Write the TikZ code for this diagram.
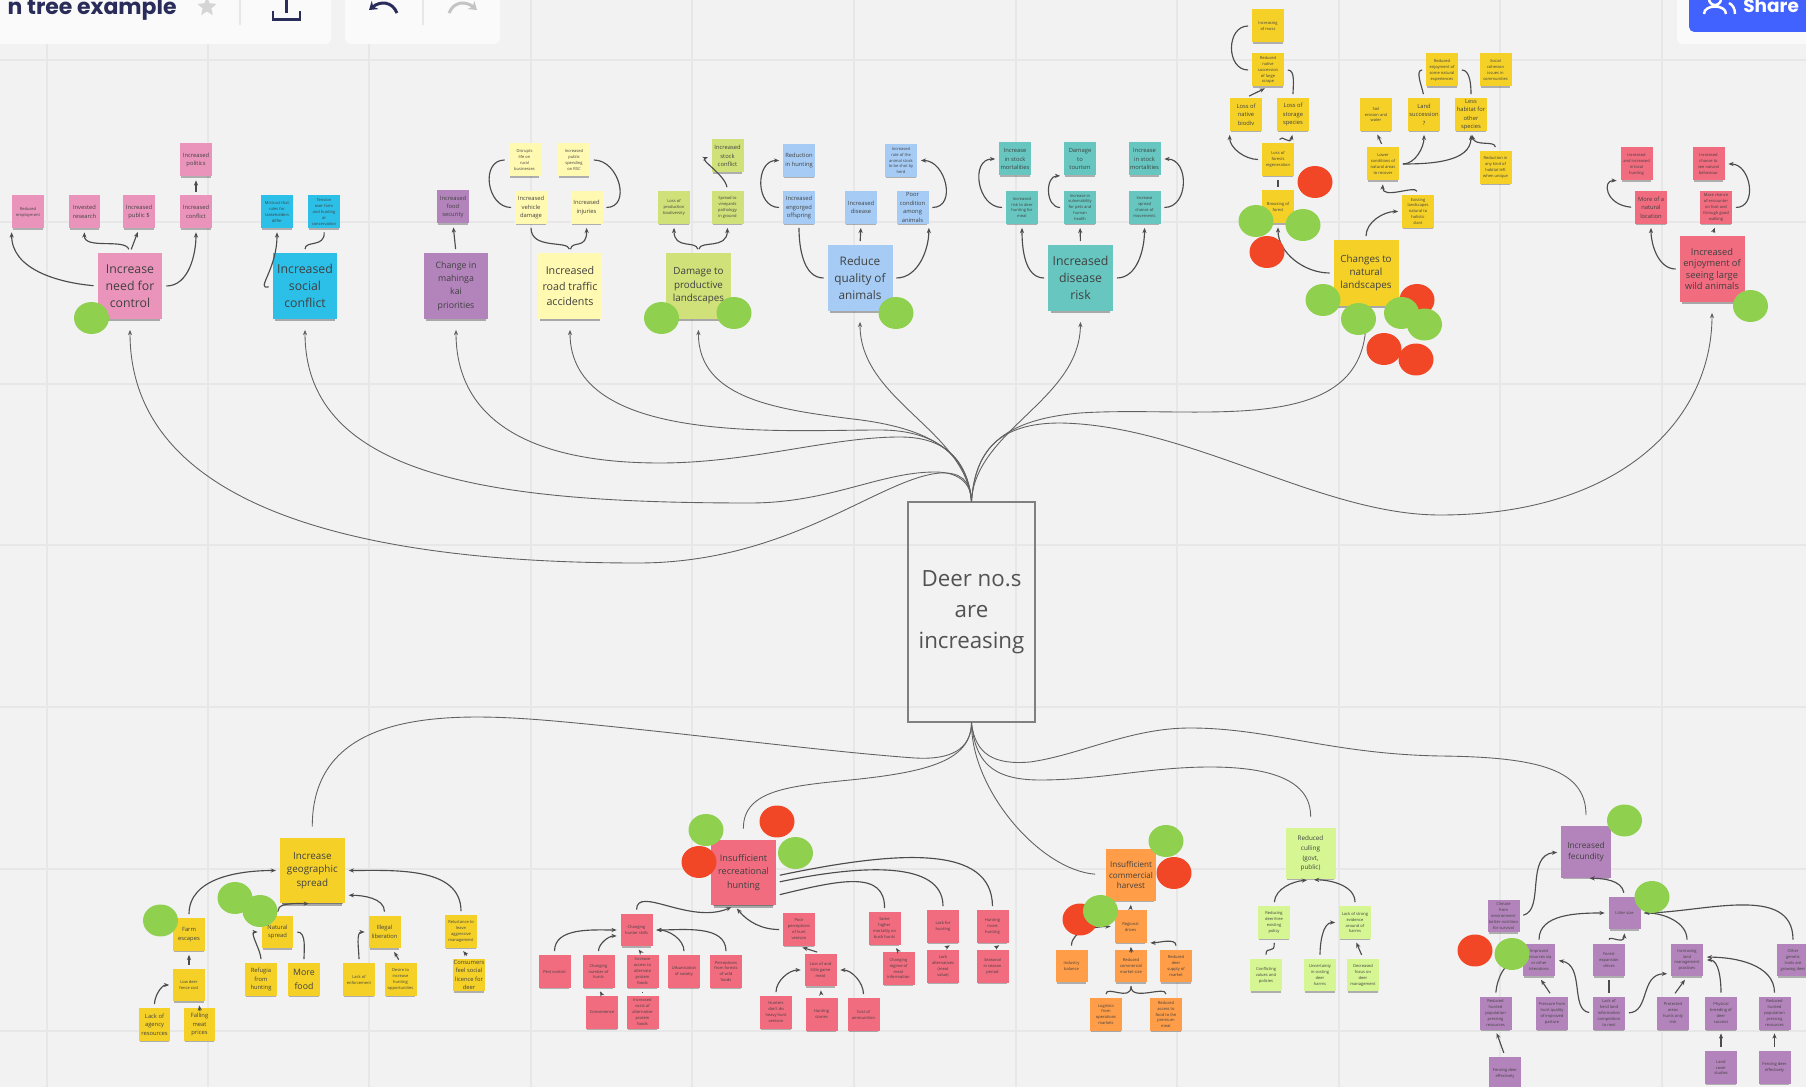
\documentclass[tikz,border=0pt]{standalone}
\usepackage{fontspec}
\setmainfont{Open Sans}
\newfontfamily\headfont{Poppins}
\usetikzlibrary{arrows.meta,shapes.geometric,shadows}
\definecolor{boardgrey}{HTML}{F2F2F2}
\definecolor{gridgrey}{HTML}{E7E7E7}
\definecolor{panelwhite}{HTML}{FAFAFA}
\definecolor{sharblue}{HTML}{4262FF}
\definecolor{headink}{HTML}{2A2C5A}
\definecolor{dotgreen}{HTML}{8FD14F}
\definecolor{dotred}{HTML}{F24726}
\definecolor{pinknote}{HTML}{EA94BB}
\definecolor{cyannote}{HTML}{2CC0E8}
\definecolor{violetnote}{HTML}{B384BB}
\definecolor{creamnote}{HTML}{FFF9B1}
\definecolor{olivenote}{HTML}{D0E17A}
\definecolor{bluenote}{HTML}{A6CCF5}
\definecolor{tealnote}{HTML}{67C6C0}
\definecolor{yellownote}{HTML}{F5D128}
\definecolor{rednote}{HTML}{F16C7F}
\definecolor{orangenote}{HTML}{FF9D48}
\definecolor{limenote}{HTML}{D5F692}
\newcommand{\smalltext}{\fontsize{3.3}{4.8}\selectfont}
\newcommand{\tinytext}{\fontsize{2.3}{3.4}\selectfont}
\newcommand{\midtext}{\fontsize{5.6}{7.6}\selectfont}
\newcommand{\bigtext}{\fontsize{7}{9.6}\selectfont}

\begin{document}
\begin{tikzpicture}
  [x=.02cm,y=-.02cm]
      \tikzstyle{small_note} = [rectangle, minimum width=.64cm, minimum height=.66cm, inner sep=0pt, align=center, text=black!75, font=\smalltext,
        drop shadow={shadow xshift=0pt, shadow yshift=-.05cm, shadow scale=.93, fill=black, opacity=.28}]
      \tikzstyle{mid_note} = [small_note, minimum width=1cm, minimum height=1.04cm, font=\midtext]
      \tikzstyle{big_note} = [small_note, minimum width=1.3cm, minimum height=1.32cm, font=\bigtext,
        drop shadow={shadow xshift=0pt, shadow yshift=-.11cm, shadow scale=.92, fill=black, opacity=.3}]
      \tikzstyle{dot} = [ellipse, minimum width=.7cm, minimum height=.64cm, inner sep=0pt]
      \tikzstyle{plain_edge} = [draw=black!70, line width=.65pt, shorten <=2pt, shorten >=2pt]
      \tikzstyle{edge_style} = [plain_edge, -{Stealth[length=3pt,width=2.4pt]}]
      \tikzstyle{main_edge} = [edge_style, draw=black!62, line width=.5pt, shorten <=0pt, shorten >=6pt]
      \tikzstyle{grid_line} = [draw=gridgrey, line width=.6pt]
  \path[use as bounding box] (0,0) rectangle (1806,1087);
  \clip (0,0) rectangle (1806,1087);
  % board
  \fill[boardgrey] (0,0) rectangle (1806,1087);
  \draw[grid_line] (47,0) -- (47,1087) (208,0) -- (208,1087) (369,0) -- (369,1087) (531,0) -- (531,1087)
    (692,0) -- (692,1087) (854,0) -- (854,1087) (1016,0) -- (1016,1087) (1177,0) -- (1177,1087)
    (1339,0) -- (1339,1087) (1500,0) -- (1500,1087) (1662,0) -- (1662,1087);
  \draw[grid_line] (0,60) -- (1806,60) (0,222) -- (1806,222) (0,384) -- (1806,384) (0,545) -- (1806,545)
    (0,707) -- (1806,707) (0,869) -- (1806,869) (0,1031) -- (1806,1031);
  % toolbar
  \fill[panelwhite, rounded corners=3pt] (-20,-20) rectangle (331,44);
  \fill[panelwhite, rounded corners=3pt] (345,-20) rectangle (500,44);
  \fill[panelwhite, rounded corners=3pt] (1677,-20) rectangle (1830,44);
  \fill[sharblue, rounded corners=3pt] (1689,-20) rectangle (1830,32);
  \node[anchor=base east, font=\headfont\bfseries\fontsize{12.5}{15}\selectfont, text=headink, inner sep=0pt] (board_title) at (177,15) {n tree example};
  \node[star, star points=5, star point ratio=2.2, fill=gridgrey!92!black, minimum size=.4cm, inner sep=0pt] (star_icon) at (207,7) {};
  \draw[gridgrey, line width=.7pt] (240,0) -- (240,25) (423,0) -- (423,25);
  \draw[headink, line width=1.4pt] (273,11) -- (273,19.5) -- (300,19.5) -- (300,11) (286.5,0) -- (286.5,13);
  \draw[headink, line width=1.7pt, -{Stealth[length=4.5pt,width=6pt]}] (397,13) .. controls (392,1) and (380,1) .. (369,10);
  \draw[gridgrey!85!black, line width=1.7pt, -{Stealth[length=4.5pt,width=6pt]}] (449,13) .. controls (454,1) and (466,1) .. (477,10);
  \draw[white, line width=1.4pt] (1704,14) .. controls (1704,4) and (1726,4) .. (1726,14) (1715,-1) circle (6) (1729,3) .. controls (1733,5) and (1735,9) .. (1735,14);
  \node[anchor=base west, font=\headfont\bfseries\fontsize{10.5}{12}\selectfont, text=white, inner sep=0pt] (share_text) at (1743,13) {Share};
  % centre
  \node[draw=black!50, line width=.8pt, minimum width=2.54cm, minimum height=4.4cm, inner sep=0pt, align=center, text=black!68, font=\fontsize{12.7}{17.6}\selectfont] (deer) at (971.5,612) {Deer no.s\\are\\increasing};
  % upper notes
  \node[big_note, fill=pinknote] (need) at (130,286) {Increase\\need for\\control};
  \node[small_note, fill=pinknote, font=\tinytext] (need1) at (28,212) {Reduced\\employment};
  \node[small_note, fill=pinknote] (need2) at (84.5,212) {Invested\\research};
  \node[small_note, fill=pinknote] (need3) at (139,212) {Increased\\public \$};
  \node[small_note, fill=pinknote] (need4) at (196,212) {Increased\\conflict};
  \node[small_note, fill=pinknote] (need5) at (196,160) {Increased\\politics};
  \node[big_note, fill=cyannote] (social) at (305,286) {Increased\\social\\conflict};
  \node[small_note, fill=cyannote, font=\tinytext] (social1) at (277,212) {Mistrust that\\rules for\\stakeholders\\differ};
  \node[small_note, fill=cyannote, font=\tinytext] (social2) at (324,212) {Tension\\over farm\\and hunting\\at\\conservation};
  \node[big_note, fill=violetnote, font=\fontsize{5}{7.6}\selectfont] (mahinga) at (456,286) {Change in\\mahinga\\kai\\priorities};
  \node[small_note, fill=violetnote] (mahinga1) at (453,207) {Increased\\food\\security};
  \node[big_note, fill=creamnote, font=\fontsize{6.1}{8.8}\selectfont] (road) at (570,286) {Increased\\road traffic\\accidents};
  \node[small_note, fill=creamnote, font=\tinytext] (road1) at (524.5,160) {Disrupts\\life on\\rural\\businesses};
  \node[small_note, fill=creamnote, font=\tinytext] (road2) at (574,160) {Increased\\public\\spending\\on RSC};
  \node[small_note, fill=creamnote] (road3) at (531,207.5) {Increased\\vehicle\\damage};
  \node[small_note, fill=creamnote] (road4) at (586.5,207.5) {Increased\\injuries};
  \node[big_note, fill=olivenote, font=\midtext] (damage) at (698.5,286) {Damage to\\productive\\landscapes};
  \node[small_note, fill=olivenote, font=\tinytext] (damage1) at (674,207.5) {Loss of\\production\\biodiversity};
  \node[small_note, fill=olivenote, font=\tinytext] (damage2) at (727.5,207.5) {Spread to\\vineyards\\pathology\\in ground};
  \node[small_note, fill=olivenote] (damage3) at (727.5,156) {Increased\\stock\\conflict};
  \node[big_note, fill=bluenote, font=\fontsize{6.7}{9.6}\selectfont] (quality) at (860,278) {Reduce\\quality of\\animals};
  \node[small_note, fill=bluenote] (quality1) at (799,160.5) {Reduction\\in hunting};
  \node[small_note, fill=bluenote, font=\tinytext] (quality2) at (901,160.5) {Increased\\rate of the\\animal stock\\to be shot by\\herd};
  \node[small_note, fill=bluenote] (quality3) at (799,207.5) {Increased\\engorged\\offspring};
  \node[small_note, fill=bluenote] (quality4) at (861,207.5) {Increased\\disease};
  \node[small_note, fill=bluenote] (quality5) at (912.5,207.5) {Poor\\condition\\among\\animals};
  \node[big_note, fill=tealnote] (disease) at (1080.5,278) {Increased\\disease\\risk};
  \node[small_note, fill=tealnote] (disease1) at (1015,159) {Increase\\in stock\\mortalities};
  \node[small_note, fill=tealnote] (disease2) at (1080,159) {Damage\\to\\tourism};
  \node[small_note, fill=tealnote] (disease3) at (1144.5,159) {Increase\\in stock\\mortalities};
  \node[small_note, fill=tealnote, font=\tinytext] (disease4) at (1022,207.5) {Increased\\risk to deer\\hunting for\\meat};
  \node[small_note, fill=tealnote, font=\tinytext] (disease5) at (1080,207.5) {Increase in\\vulnerability\\for pets and\\human\\health};
  \node[small_note, fill=tealnote, font=\tinytext] (disease6) at (1144.5,207.5) {Increase\\spread\\chance of\\movements};
  \node[big_note, fill=yellownote, font=\midtext] (changes) at (1366,273) {Changes to\\natural\\landscapes};
  \node[small_note, fill=yellownote, font=\tinytext] (lands1) at (1268,26) {Increasing\\of moss};
  \node[small_note, fill=yellownote, font=\tinytext] (lands2) at (1268,70) {Reduced\\native\\succession\\of large\\scrape};
  \node[small_note, fill=yellownote] (lands3) at (1246,114.5) {Loss of\\native\\biodiv};
  \node[small_note, fill=yellownote] (lands4) at (1293,114.5) {Loss of\\storage\\species};
  \node[small_note, fill=yellownote, font=\tinytext] (lands5) at (1278,159.5) {Loss of\\forests\\regeneration};
  \node[small_note, fill=yellownote, font=\tinytext] (lands6) at (1278,207) {Browsing of\\forest};
  \node[small_note, fill=yellownote, font=\tinytext] (lands7) at (1376,114.5) {Soil\\erosion and\\water};
  \node[small_note, fill=yellownote] (lands8) at (1424,114.5) {Land\\succession\\?};
  \node[small_note, fill=yellownote] (lands9) at (1471,114.5) {Less\\habitat for\\other\\species};
  \node[small_note, fill=yellownote, font=\tinytext] (lands10) at (1442,70) {Reduced\\enjoyment of\\some natural\\experiences};
  \node[small_note, fill=yellownote, font=\tinytext] (lands11) at (1495.5,70) {Social\\cohesion\\issues in\\communities};
  \node[small_note, fill=yellownote, font=\tinytext] (lands12) at (1383,164) {Lower\\conditions of\\natural areas\\to recover};
  \node[small_note, fill=yellownote, font=\tinytext] (lands13) at (1495.5,167.5) {Reduction in\\any kind of\\habitat left\\when unique};
  \node[small_note, fill=yellownote, font=\tinytext] (lands14) at (1418,211.5) {Existing\\landscapes\\natural to\\holistic\\slant};
  \node[big_note, fill=rednote, font=\fontsize{5.3}{6.4}\selectfont] (enjoy) at (1712,269) {Increased\\enjoyment of\\seeing large\\wild animals};
  \node[small_note, fill=rednote, font=\tinytext] (enjoy1) at (1636.5,164) {Increased\\and increased\\in local\\hunting};
  \node[small_note, fill=rednote, font=\tinytext] (enjoy2) at (1708.5,164) {Increased\\chance to\\see natural\\behaviour};
  \node[small_note, fill=rednote] (enjoy3) at (1651,207.5) {More of a\\natural\\location};
  \node[small_note, fill=rednote, font=\tinytext] (enjoy4) at (1716,207.5) {More chance\\of encounter\\on foot and\\through good\\walking};
  % lower notes
  \node[big_note, fill=yellownote, font=\midtext] (geo) at (312.3,870.5) {Increase\\geographic\\spread};
  \node[small_note, fill=yellownote] (geo1) at (189,934.5) {Farm\\escapes};
  \node[small_note, fill=yellownote, font=\tinytext] (geo2) at (189,985) {Low deer\\fence cost};
  \node[small_note, fill=yellownote] (geo3) at (154.5,1024.5) {Lack of\\agency\\resources};
  \node[small_note, fill=yellownote] (geo4) at (199.5,1024.5) {Falling\\meat\\prices};
  \node[small_note, fill=yellownote] (geo5) at (277.5,932) {Natural\\spread};
  \node[small_note, fill=yellownote] (geo6) at (261,979.5) {Refugia\\from\\hunting};
  \node[small_note, fill=yellownote, font=\fontsize{5}{7.6}\selectfont] (geo7) at (304,979.5) {More\\food};
  \node[small_note, fill=yellownote] (geo8) at (384.5,932) {Illegal\\liberation};
  \node[small_note, fill=yellownote, font=\tinytext] (geo9) at (359,979.5) {Lack of\\enforcement};
  \node[small_note, fill=yellownote, font=\tinytext] (geo10) at (400.5,979.5) {Desire to\\increase\\hunting\\opportunities};
  \node[small_note, fill=yellownote, font=\tinytext] (geo11) at (461,931.5) {Reluctance to\\leave\\aggressive\\management};
  \node[small_note, fill=yellownote] (geo12) at (469,975) {Consumers\\feel social\\licence for\\deer};
  \node[big_note, fill=rednote, font=\fontsize{5.2}{7.6}\selectfont] (rec) at (743.5,872.5) {Insufficient\\recreational\\hunting};
  \node[small_note, fill=rednote, font=\tinytext] (rec1) at (636.5,930) {Changing\\hunter skills};
  \node[small_note, fill=rednote, font=\tinytext] (rec2) at (554.5,971.5) {Pest control};
  \node[small_note, fill=rednote, font=\tinytext] (rec3) at (598.5,971.5) {Changing\\number of\\hunts};
  \node[small_note, fill=rednote, font=\tinytext] (rec4) at (642.5,971.5) {Increase\\access to\\alternate\\protein\\foods};
  \node[small_note, fill=rednote, font=\tinytext] (rec5) at (684,971.5) {Urbanisation\\of society};
  \node[small_note, fill=rednote, font=\tinytext] (rec6) at (726,971.5) {Perceptions\\from forests\\of wild\\foods};
  \node[small_note, fill=rednote, font=\tinytext] (rec7) at (602,1012) {Convenience};
  \node[small_note, fill=rednote, font=\tinytext] (rec8) at (642.5,1012) {Increased\\costs of\\alternative\\protein\\foods};
  \node[small_note, fill=rednote, font=\tinytext] (rec9) at (799,929.5) {Poor\\perceptions\\of hunt\\venison};
  \node[small_note, fill=rednote, font=\tinytext] (rec10) at (820.5,970) {Loss of and\\little game\\meat};
  \node[small_note, fill=rednote, font=\tinytext] (rec11) at (776,1012.5) {Hunters\\don't do\\heavy hunt\\venison};
  \node[small_note, fill=rednote, font=\tinytext] (rec12) at (821.5,1014.5) {Hunting\\stories};
  \node[small_note, fill=rednote, font=\tinytext] (rec13) at (863.5,1014.5) {Cost of\\ammunition};
  \node[small_note, fill=rednote, font=\tinytext] (rec14) at (884.5,928.5) {Same\\higher\\mortality on\\bush hunts};
  \node[small_note, fill=rednote, font=\tinytext] (rec15) at (898.5,968.5) {Changing\\regime of\\meat\\information};
  \node[small_note, fill=rednote, font=\tinytext] (rec16) at (943,926.5) {Lack for\\hunting};
  \node[small_note, fill=rednote, font=\tinytext] (rec17) at (943,966.5) {Lack\\alternatives\\(meat\\value)};
  \node[small_note, fill=rednote, font=\tinytext] (rec18) at (992.5,926.5) {Hunting\\more\\hunting};
  \node[small_note, fill=rednote, font=\tinytext] (rec19) at (992.5,966.5) {Seasonal\\in season\\period};
  \node[mid_note, fill=orangenote, font=\fontsize{4.6}{6.2}\selectfont] (comm) at (1131,875) {Insufficient\\commercial\\harvest};
  \node[small_note, fill=orangenote, font=\tinytext] (comm1) at (1130.5,926.5) {Regional\\drives};
  \node[small_note, fill=orangenote, font=\tinytext] (comm2) at (1071.5,966) {Industry\\balance};
  \node[small_note, fill=orangenote, font=\tinytext] (comm3) at (1131,966) {Reduced\\commercial\\market size};
  \node[small_note, fill=orangenote, font=\tinytext] (comm4) at (1176,966) {Reduced\\deer\\supply of\\market};
  \node[small_note, fill=orangenote, font=\tinytext] (comm5) at (1106,1014.5) {Logistics\\from\\operations\\markets};
  \node[small_note, fill=orangenote, font=\tinytext] (comm6) at (1166,1014.5) {Reduced\\access to\\food to the\\premium\\meat};
  \node[mid_note, fill=limenote, font=\fontsize{3.6}{5.6}\selectfont] (cull) at (1310.5,853.5) {Reduced\\culling\\(govt,\\public)};
  \node[small_note, fill=limenote, font=\tinytext] (cull1) at (1274,922.5) {Reducing\\deer/tree\\existing\\policy};
  \node[small_note, fill=limenote, font=\tinytext] (cull2) at (1355,922.5) {Lack of strong\\evidence\\around of\\harms};
  \node[small_note, fill=limenote, font=\tinytext] (cull3) at (1266,975) {Conflicting\\values and\\policies};
  \node[small_note, fill=limenote, font=\tinytext] (cull4) at (1320,975) {Uncertainty\\in costing\\deer\\harms};
  \node[small_note, fill=limenote, font=\tinytext] (cull5) at (1363,975) {Decreased\\focus on\\deer\\management};
  \node[mid_note, fill=violetnote, font=\fontsize{4.7}{6.6}\selectfont] (fec) at (1586,852) {Increased\\fecundity};
  \node[small_note, fill=violetnote, font=\tinytext] (fec1) at (1503.5,916) {Climate\\from\\environment\\better nutrition\\for survival};
  \node[small_note, fill=violetnote, font=\tinytext] (fec2) at (1624.5,913) {Litter size};
  \node[small_note, fill=violetnote, font=\tinytext] (fec3) at (1539,960) {Improved\\resources via\\or other\\tolerations};
  \node[small_note, fill=violetnote, font=\tinytext] (fec4) at (1609,960) {Forest\\expansion\\drives};
  \node[small_note, fill=violetnote, font=\tinytext] (fec5) at (1687,960) {Increasing\\land\\management\\practices};
  \node[small_note, fill=violetnote, font=\tinytext] (fec6) at (1793,960) {Other\\genetic\\traits are\\growing deer};
  \node[small_note, fill=violetnote, font=\tinytext] (fec7) at (1495.5,1013) {Reduced\\hunted\\population\\pressing\\resources};
  \node[small_note, fill=violetnote, font=\tinytext] (fec8) at (1552,1013) {Pressure from\\hunt quality\\of improved\\pasture};
  \node[small_note, fill=violetnote, font=\tinytext] (fec9) at (1609,1013) {Lack of\\herd land\\information\\competition\\to next};
  \node[small_note, fill=violetnote, font=\tinytext] (fec10) at (1673,1013) {Protected\\areas\\hunts only\\risk};
  \node[small_note, fill=violetnote, font=\tinytext] (fec11) at (1721,1013) {Physical\\breeding of\\deer\\success};
  \node[small_note, fill=violetnote, font=\tinytext] (fec12) at (1774.5,1013) {Reduced\\hunted\\population\\pressing\\resources};
  \node[small_note, fill=violetnote, font=\tinytext] (fec13) at (1505,1073) {Fencing deer\\effectively};
  \node[small_note, fill=violetnote, font=\tinytext] (fec14) at (1721,1067.5) {Land\\cover\\studies};
  \node[small_note, fill=violetnote, font=\tinytext] (fec15) at (1774.5,1067.5) {Fencing deer\\effectively};
  % main branches
  \draw[main_edge] (deer.north) .. controls (971,480) and (960,472) .. (940,473) .. controls (880,478) and (790,563) .. (638,563) .. controls (340,563) and (130,500) .. (need.south);
  \draw[main_edge] (deer.north) .. controls (971,480) and (955,472) .. (935,472) .. controls (880,472) and (830,503) .. (750,503) .. controls (500,503) and (305,480) .. (social.south);
  \draw[main_edge] (deer.north) .. controls (968,465) and (950,437) .. (900,437) .. controls (830,437) and (750,463) .. (660,463) .. controls (530,463) and (456,420) .. (mahinga.south);
  \draw[main_edge] (deer.north) .. controls (968,460) and (940,430) .. (880,430) .. controls (780,430) and (570,445) .. (road.south);
  \draw[main_edge] (deer.north) .. controls (968,455) and (935,430) .. (861,420) .. controls (780,410) and (698,400) .. (damage.south);
  \draw[main_edge] (deer.north) .. controls (965,430) and (860,400) .. (quality.south);
  \draw[main_edge] (deer.north) .. controls (975,430) and (1080,400) .. (disease.south);
  \draw[main_edge] (deer.north) .. controls (975,450) and (1000,420) .. (1080,413) .. controls (1200,405) and (1366,440) .. (changes.south);
  \draw[main_edge] (deer.north) .. controls (975,450) and (1000,423) .. (1060,423) .. controls (1190,425) and (1320,515) .. (1440,515) .. controls (1620,515) and (1712,420) .. (enjoy.south);
  \draw[main_edge, -] (deer.south) .. controls (971,750) and (950,760) .. (915,758) .. controls (830,752) and (700,735) .. (576,723) .. controls (470,713) and (312,700) .. (geo.north);
  \draw[main_edge, -] (deer.south) .. controls (971,760) and (930,772) .. (850,780) .. controls (790,786) and (743,790) .. (rec.north);
  \draw[main_edge, -] (deer.south) .. controls (971,790) and (1040,870) .. (comm.west);
  \draw[main_edge, -] (deer.south) .. controls (975,760) and (990,780) .. (1040,780) .. controls (1100,780) and (1150,767) .. (1210,767) .. controls (1270,767) and (1311,780) .. (cull.north);
  \draw[main_edge, -] (deer.south) .. controls (975,755) and (995,765) .. (1030,762) .. controls (1080,755) and (1130,728) .. (1190,728) .. controls (1270,728) and (1330,754) .. (1440,756) .. controls (1540,757) and (1586,770) .. (fec.north);
  % need, social, mahinga
  \draw[edge_style] (need.west) to[out=175,in=270] (need1.south west);
  \draw[edge_style] (need.north) .. controls (125,238) and (84,250) .. (need2.south);
  \draw[edge_style] (need.north) -- (need3.south);
  \draw[edge_style] (need.east) to[out=0,in=270] (need4.south);
  \draw[edge_style] (need4.north) -- (need5.south);
  \draw[edge_style] (social.west) .. controls (255,290) and (277,270) .. (social1.south);
  \draw[plain_edge] (social.north) .. controls (305,240) and (325,248) .. (social2.south);
  \draw[edge_style] (mahinga.north) -- (mahinga1.south);
  % road, damage
  \draw[plain_edge] (road.north) .. controls (568,240) and (531,250) .. (road3.south);
  \draw[edge_style] (road.north) .. controls (572,240) and (587,250) .. (road4.south);
  \draw[plain_edge] (road3.west) to[out=180,in=180,looseness=1.5] (road1.west);
  \draw[plain_edge] (road4.east) to[out=0,in=0,looseness=1.5] (road2.east);
  \draw[edge_style] (damage.north) .. controls (696,240) and (674,250) .. (damage1.south);
  \draw[edge_style] (damage.north) .. controls (700,240) and (727,250) .. (damage2.south);
  \draw[edge_style] (damage2.north) .. controls (725,175) and (700,160) .. (damage3.west);
  % quality, disease
  \draw[plain_edge] (quality.west) to[out=180,in=270] (quality3.south);
  \draw[edge_style] (quality.north) -- (quality4.south);
  \draw[edge_style] (quality.east) to[out=0,in=270] (quality5.south east);
  \draw[edge_style] (quality3.west) to[out=180,in=180,looseness=1.5] (quality1.west);
  \draw[edge_style] (quality5.east) to[out=0,in=0,looseness=1.5] (quality2.east);
  \draw[edge_style] (disease.west) to[out=180,in=270] (disease4.south);
  \draw[edge_style] (disease.north) -- (disease5.south);
  \draw[edge_style] (disease.east) to[out=0,in=270] (disease6.south);
  \draw[edge_style] (disease4.west) to[out=180,in=180,looseness=1.5] (disease1.west);
  \draw[edge_style] (disease5.west) to[out=180,in=180,looseness=1.5] (disease2.south west);
  \draw[edge_style] (disease6.east) to[out=0,in=0,looseness=1.5] (disease3.east);
  % changes
  \draw[edge_style] (changes.west) to[out=180,in=270] (lands6.south);
  \draw[plain_edge] (lands6.north) -- (lands5.south);
  \draw[edge_style] (lands5.west) to[out=180,in=270] (lands3.south west);
  \draw[edge_style] (lands5.north) .. controls (1282,134) and (1290,146) .. (lands4.south);
  \draw[edge_style] (lands3.north) -- (lands2.south);
  \draw[plain_edge] (lands4.north) to[out=90,in=0] (lands2.east);
  \draw[plain_edge] (lands2.west) to[out=180,in=180,looseness=1.5] (lands1.west);
  \draw[edge_style] (changes.north) to[out=90,in=180] (lands14.west);
  \draw[edge_style] (lands14.north) .. controls (1415,185) and (1382,200) .. (lands12.south);
  \draw[edge_style] (lands12.east) to[out=0,in=270] (lands8.south);
  \draw[edge_style] (lands12.east) to[out=0,in=270] (lands9.south);
  \draw[edge_style] (lands12.north) -- (lands7.south);
  \draw[edge_style] (lands13.north) .. controls (1495,140) and (1475,147) .. (lands9.south);
  \draw[plain_edge] (lands8.north) to[out=100,in=180] (lands10.west);
  \draw[plain_edge] (lands9.north) to[out=90,in=0] (lands10.east);
  % enjoy
  \draw[edge_style] (enjoy.west) to[out=180,in=270] (enjoy3.south);
  \draw[edge_style] (enjoy.north) -- (enjoy4.south);
  \draw[edge_style] (enjoy3.west) .. controls (1605,205) and (1602,180) .. (enjoy1.south west);
  \draw[edge_style] (enjoy4.east) to[out=0,in=0,looseness=1.5] (enjoy2.east);
  % geo
  \draw[edge_style] (geo1.north) to[out=90,in=180] (geo.west);
  \draw[edge_style] (geo5.north) .. controls (278,905) and (285,903) .. (geo.south);
  \draw[edge_style] (geo8.north) to[out=90,in=0] (geo.-37);
  \draw[edge_style] (geo11.north) to[out=90,in=0] (geo.east);
  \draw[edge_style] (geo2.north) -- (geo1.south);
  \draw[edge_style] (geo3.north) to[out=90,in=180] (geo2.west);
  \draw[edge_style] (geo4.north) -- (geo2.-60);
  \draw[edge_style] (geo6.north) to[out=90,in=180] (geo5.west);
  \draw[plain_edge] (geo7.north) to[out=90,in=0] (geo5.east);
  \draw[edge_style] (geo9.north) to[out=90,in=180] (geo8.west);
  \draw[edge_style] (geo10.north) -- (geo8.-65);
  \draw[edge_style] (geo12.north) -- (geo11.south);
  % rec
  \draw[edge_style] (rec1.north) .. controls (637,885) and (690,925) .. (rec.-105);
  \draw[edge_style] (rec9.west) to[out=180,in=-50] (rec.-105);
  \draw[plain_edge] (rec14.north) .. controls (885,870) and (840,880) .. (rec.-35);
  \draw[plain_edge] (rec16.north) .. controls (943,860) and (860,865) .. (rec.-17);
  \draw[plain_edge] (rec18.north) .. controls (992,845) and (900,850) .. (rec.-6);
  \draw[edge_style] (rec2.north) to[out=90,in=180] (rec1.west);
  \draw[edge_style] (rec3.north) to[out=90,in=180] (rec1.200);
  \draw[edge_style] (rec4.north) -- (rec1.south);
  \draw[edge_style] (rec5.north) to[out=90,in=0] (rec1.east);
  \draw[edge_style] (rec6.north) to[out=90,in=0] (rec1.east);
  \draw[edge_style] (rec7.north) -- (rec3.south);
  \draw[plain_edge] (rec8.north) -- (rec4.south);
  \draw[edge_style] (rec10.north) -- (rec9.south);
  \draw[edge_style] (rec11.north) to[out=90,in=180] (rec10.west);
  \draw[edge_style] (rec12.north) -- (rec10.south);
  \draw[edge_style] (rec13.north) to[out=90,in=0] (rec10.east);
  \draw[edge_style] (rec15.north) -- (rec14.-60);
  \draw[edge_style] (rec17.north) -- (rec16.-60);
  \draw[edge_style] (rec19.north) -- (rec18.-60);
  % comm, cull
  \draw[edge_style] (comm1.north) -- (comm.south);
  \draw[edge_style] (comm3.north) -- (comm1.south);
  \draw[edge_style] (comm2.north) to[out=90,in=180] (comm1.west);
  \draw[edge_style] (comm4.north) to[out=90,in=0] (comm1.-45);
  \draw[plain_edge] (comm5.north) .. controls (1106,985) and (1131,1002) .. (comm3.south);
  \draw[plain_edge] (comm6.north) .. controls (1166,985) and (1131,1002) .. (comm3.south);
  \draw[edge_style] (cull1.north) to[out=85,in=185] (cull.south);
  \draw[edge_style] (cull2.north) to[out=90,in=0] (cull.south);
  \draw[plain_edge] (cull3.north) .. controls (1266,945) and (1275,955) .. (cull1.south);
  \draw[edge_style] (cull4.north) to[out=90,in=180] (cull2.west);
  \draw[edge_style] (cull5.north) -- (cull2.south);
  % fec
  \draw[edge_style] (fec1.east) .. controls (1545,910) and (1525,855) .. (fec.west);
  \draw[edge_style] (fec2.north) to[out=100,in=0] (fec.south);
  \draw[edge_style] (fec3.north) to[out=90,in=180] (fec2.west);
  \draw[edge_style] (fec5.north) to[out=90,in=0] (fec2.east);
  \draw[plain_edge] (fec6.north) to[out=90,in=0] (fec2.east);
  \draw[edge_style] (fec4.north) .. controls (1609,935) and (1624,945) .. (fec2.south);
  \draw[plain_edge] (fec9.north) -- (fec4.south);
  \draw[edge_style] (fec9.west) .. controls (1570,1010) and (1585,965) .. (fec3.east);
  \draw[edge_style] (fec9.east) .. controls (1650,1012) and (1640,974) .. (fec5.220);
  \draw[plain_edge] (fec7.north) to[out=85,in=180] (fec3.west);
  \draw[edge_style] (fec8.north) -- (fec3.south);
  \draw[edge_style] (fec10.north) -- (fec5.south);
  \draw[edge_style] (fec11.north) to[out=90,in=0] (fec5.east);
  \draw[edge_style] (fec12.north) to[out=90,in=0] (fec5.10);
  \draw[edge_style] (fec14.north) -- (fec11.south);
  \draw[edge_style] (fec15.north) -- (fec12.south);
  \draw[edge_style] (fec13.north) -- (fec7.south);
  % votes
  \node[dot, fill=dotgreen] (vote1) at (91.5,318) {};
  \node[dot, fill=dotgreen] (vote2) at (661.5,318) {};
  \node[dot, fill=dotgreen] (vote3) at (734,313) {};
  \node[dot, fill=dotgreen] (vote4) at (896,313) {};
  \node[dot, fill=dotred] (vote5) at (1315,182) {};
  \node[dot, fill=dotgreen] (vote6) at (1256,221) {};
  \node[dot, fill=dotgreen] (vote7) at (1303,225) {};
  \node[dot, fill=dotred] (vote8) at (1267,252) {};
  \node[dot, fill=dotgreen] (vote9) at (1323,300) {};
  \node[dot, fill=dotgreen] (vote10) at (1358.5,319) {};
  \node[dot, fill=dotred] (vote11) at (1417,300) {};
  \node[dot, fill=dotgreen] (vote12) at (1401.5,313) {};
  \node[dot, fill=dotgreen] (vote13) at (1424.5,324.5) {};
  \node[dot, fill=dotred] (vote14) at (1384,349) {};
  \node[dot, fill=dotred] (vote15) at (1416,359.5) {};
  \node[dot, fill=dotgreen] (vote16) at (1750.5,306) {};
  \node[dot, fill=dotgreen] (vote17) at (160.5,920.5) {};
  \node[dot, fill=dotgreen] (vote18) at (235,898) {};
  \node[dot, fill=dotgreen] (vote19) at (260,911) {};
  \node[dot, fill=dotgreen] (vote20) at (706,830) {};
  \node[dot, fill=dotred] (vote21) at (777,821.5) {};
  \node[dot, fill=dotgreen] (vote22) at (795.5,853) {};
  \node[dot, fill=dotred] (vote23) at (699,862) {};
  \node[dot, fill=dotgreen] (vote24) at (1166,841) {};
  \node[dot, fill=dotred] (vote25) at (1174,873) {};
  \node[dot, fill=dotred] (vote26) at (1080,919.5) {};
  \node[dot, fill=dotgreen] (vote27) at (1100.5,911) {};
  \node[dot, fill=dotgreen] (vote28) at (1624.5,820.5) {};
  \node[dot, fill=dotgreen] (vote29) at (1652,897) {};
  \node[dot, fill=dotred] (vote30) at (1475,950.5) {};
  \node[dot, fill=dotgreen] (vote31) at (1512,954) {};
\end{tikzpicture}
\end{document}
